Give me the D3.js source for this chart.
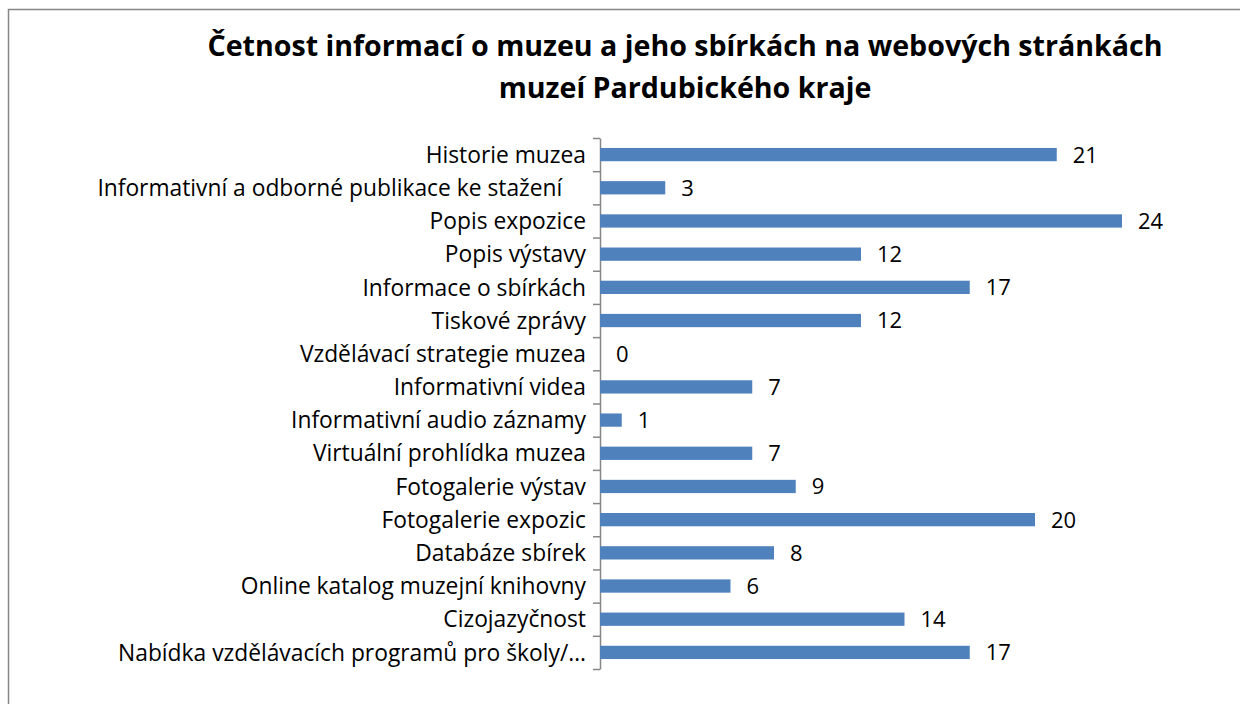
<!DOCTYPE html>
<html>
<head>
<meta charset="utf-8">
<script src="https://cdn.jsdelivr.net/npm/d3@7"></script>
<style>
  body { margin: 0; background: #fff; }
  #chart { width: 1240px; height: 704px; }
  text { font-family: "Open Sans", "Noto Sans", sans-serif; fill: #000; }
</style>
</head>
<body>
<div id="chart"></div>
<script>
const categories = [
  "Historie muzea",
  "Informativní a odborné publikace ke stažení    ",
  "Popis expozice",
  "Popis výstavy",
  "Informace o sbírkách",
  "Tiskové zprávy",
  "Vzdělávací strategie muzea",
  "Informativní videa",
  "Informativní audio záznamy",
  "Virtuální prohlídka muzea",
  "Fotogalerie výstav",
  "Fotogalerie expozic",
  "Databáze sbírek",
  "Online katalog muzejní knihovny",
  "Cizojazyčnost",
  "Nabídka vzdělávacích programů pro školy/…"
];
const values = [21, 3, 24, 12, 17, 12, 0, 7, 1, 7, 9, 20, 8, 6, 14, 17];
const titleLines = [
  "Četnost informací o muzeu a jeho sbírkách na webových stránkách",
  "muzeí Pardubického kraje"
];

document.addEventListener("DOMContentLoaded", () => {
  const width = 1240, height = 704;
  const axisX = 600, top = 138, bottom = 669;

  const svg = d3.select("#chart")
    .append("svg")
    .attr("width", width)
    .attr("height", height);

  // chart area border (runs off right/bottom of the picture)
  svg.append("rect")
    .attr("x", 8.5).attr("y", 9.5)
    .attr("width", 1260).attr("height", 720)
    .attr("fill", "none")
    .attr("stroke", "#868686")
    .attr("stroke-width", 1.5);

  svg.selectAll(".title")
    .data(titleLines)
    .enter()
    .append("text")
    .attr("class", "title")
    .attr("x", 685)
    .attr("y", (d, i) => 56 + i * 42)
    .attr("text-anchor", "middle")
    .style("font-weight", "bold")
    .style("font-size", "28.6px")
    .text(d => d);

  const xScale = d3.scaleLinear()
    .domain([0, 24])
    .range([axisX, 1122]);

  const yScale = d3.scaleBand()
    .domain(categories)
    .range([top, bottom])
    .paddingInner(0.6)
    .paddingOuter(0.3);

  // tick marks sit between categories
  const tickScale = d3.scaleLinear()
    .domain([0, categories.length])
    .range([top, bottom]);

  const yAxis = d3.axisLeft(tickScale)
    .tickValues(d3.range(categories.length + 1))
    .tickFormat("")
    .tickSize(7)
    .tickSizeOuter(0);

  const yAxisG = svg.append("g")
    .attr("class", "axis")
    .attr("transform", `translate(${axisX},0)`)
    .call(yAxis);
  yAxisG.selectAll("line, path").attr("stroke", "#868686").attr("stroke-width", 1.5);

  svg.selectAll(".cat")
    .data(categories)
    .enter()
    .append("text")
    .attr("class", "cat")
    .attr("x", 586)
    .attr("y", d => yScale(d) + yScale.bandwidth() / 2)
    .attr("dy", "0.36em")
    .attr("text-anchor", "end")
    .style("font-size", "22.8px")
    .style("white-space", "pre")
    .text(d => d);

  svg.selectAll(".bar")
    .data(values)
    .enter()
    .append("rect")
    .attr("class", "bar")
    .attr("x", xScale(0))
    .attr("y", (d, i) => yScale(categories[i]))
    .attr("width", d => xScale(d) - xScale(0))
    .attr("height", yScale.bandwidth())
    .attr("fill", "#4F81BD");

  svg.selectAll(".val")
    .data(values)
    .enter()
    .append("text")
    .attr("class", "val")
    .attr("x", d => xScale(d) + 16)
    .attr("y", (d, i) => yScale(categories[i]) + yScale.bandwidth() / 2)
    .attr("dy", "0.36em")
    .style("font-size", "22px")
    .text(d => d);
});
</script>
</body>
</html>
